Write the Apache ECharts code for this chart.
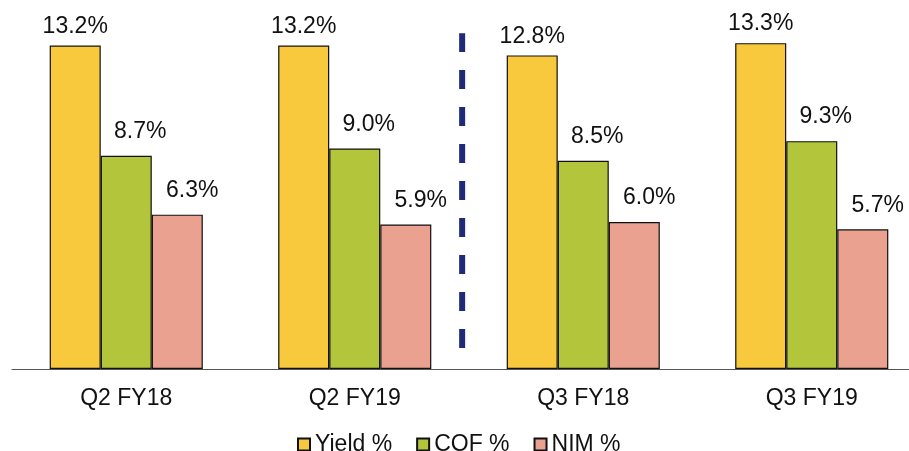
<!DOCTYPE html>
<html>
<head>
<meta charset="utf-8">
<script src="https://cdn.jsdelivr.net/npm/echarts@6/dist/echarts.min.js"></script>
<style>
  html, body { margin: 0; padding: 0; background: #fff; overflow: hidden; }
  #chart { width: 940px; height: 451px; }
</style>
</head>
<body>
<div id="chart"></div>
<script>
// 数据
const quarters = ["Q2 FY18", "Q2 FY19", "Q3 FY18", "Q3 FY19"];
const yieldPct = [13.2, 13.2, 12.8, 13.3];
const cofPct = [8.7, 9.0, 8.5, 9.3];
const nimPct = [6.3, 5.9, 6.0, 5.7];
// 分隔虚线 (x 位置, y 起止)
const dividerX = [1.47, 1.47];
const dividerY = [0.86, 13.7];

const FONT = "Liberation Sans, Arial, sans-serif";

function barSeries(name, data, color, dist, dx) {
  return {
    name: name,
    type: "bar",
    data: data,
    barGap: "0%",
    barCategoryGap: "33%",
    itemStyle: { color: color, borderColor: "#111", borderWidth: 1.2 },
    label: {
      show: true,
      position: "top",
      distance: dist,
      offset: [dx, 0],
      color: "#111",
      fontSize: 23,
      fontFamily: FONT,
      formatter: p => p.value.toFixed(1) + "%"
    }
  };
}

const chartObj = echarts.init(document.getElementById("chart"));
const option = {
  animation: false,
  grid: { left: 12, width: 914, top: 1.5, height: 367.5, containLabel: false },
  legend: {
    top: 428,
    left: 292,
    itemWidth: 12,
    itemHeight: 12,
    itemGap: 24,
    icon: "rect",
    textStyle: { fontSize: 23, color: "#111", fontFamily: FONT },
    data: ["Yield %", "COF %", "NIM %"]
  },
  xAxis: [{
    type: "category",
    data: quarters,
    axisTick: { show: false },
    axisLine: { lineStyle: { color: "#555", width: 1 } },
    axisLabel: {
      color: "#111",
      fontSize: 23,
      margin: 18,
      fontFamily: FONT
    }
  }, {
    type: "value",
    min: -0.5,
    max: 3.5,
    show: false
  }],
  yAxis: [{
    type: "value",
    min: 0,
    max: 15,
    show: false,
    splitLine: { show: false }
  }],
  series: [
    barSeries("Yield %", yieldPct, "#f8c93c", 7.5, 0),
    barSeries("COF %", cofPct, "#b3c53a", 12.5, 14),
    barSeries("NIM %", nimPct, "#eba18f", 12.5, 15),
    {
      type: "line",
      xAxisIndex: 1,
      data: [[dividerX[0], dividerY[0]], [dividerX[1], dividerY[1]]],
      symbol: "none",
      silent: true,
      lineStyle: { color: "#1f2a78", width: 6, type: [19, 18] }
    }
  ]
};
chartObj.setOption(option, true);
</script>
</body>
</html>
